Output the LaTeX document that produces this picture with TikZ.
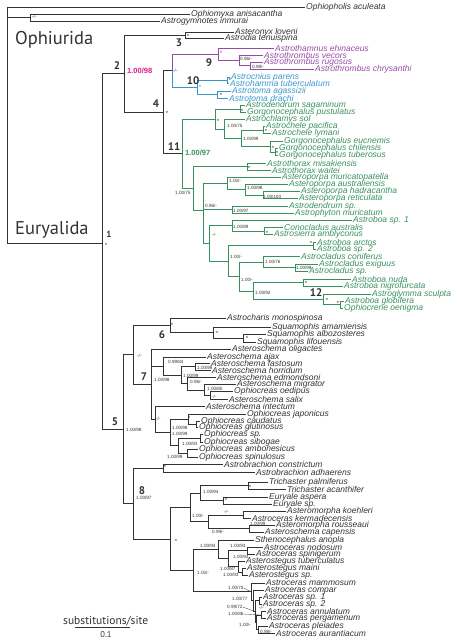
\documentclass[tikz,border=0pt]{standalone}
\usepackage{fontspec}
\setmainfont{Liberation Sans}
\newfontfamily\cladefont{PT Sans}
\usepackage{tikz}

\definecolor{treegray}{RGB}{50,50,50}
\definecolor{cladenine}{RGB}{150,75,165}
\definecolor{cladeten}{RGB}{55,150,210}
\definecolor{cladeeleven}{RGB}{55,145,95}
\definecolor{supportpink}{RGB}{220,30,140}

\tikzset{
  br/.style={color=treegray, line width=0.8pt},
  elbow/.style={to path={|- (\tikztotarget)}},
  taxon/.style={anchor=west, inner xsep=1pt, inner ysep=0pt, text=treegray, font=\fontsize{8.5}{9}\selectfont\itshape},
  supp/.style={anchor=west, inner sep=0pt, text=treegray, font=\fontsize{4.6}{5}\selectfont},
  star/.style={inner sep=0pt, text=treegray, font=\fontsize{6}{6}\selectfont},
  cladeno/.style={inner sep=0pt, text=treegray, font=\cladefont\bfseries\fontsize{11}{11}\selectfont},
  groupname/.style={anchor=west, inner sep=0pt, text=treegray, font=\cladefont\fontsize{18.5}{19}\selectfont},
}

\begin{document}
\begin{tikzpicture}[x=1pt, y=-1pt]
    \useasboundingbox (0,0) rectangle (457,643);

    % tips, top to bottom
    \node[taxon] (aculeata) at (305,7) {Ophiopholis aculeata};
    \node[taxon] (anisacantha) at (190,14) {Ophiomyxa anisacantha};
    \node[taxon] (inmurai) at (160,21) {Astrogymnotes inmurai};
    \node[taxon] (loveni) at (234,32) {Asteronyx loveni};
    \node[taxon] (tenuispina) at (224,38.5) {Astrodia tenuispina};
    \node[taxon, text=cladenine] (ehinaceus) at (274,48) {Astrothamnus ehinaceus};
    \node[taxon, text=cladenine] (vecors) at (263,55) {Astrothrombus vecors};
    \node[taxon, text=cladenine] (rugosus) at (263,62) {Astrothrombus rugosus};
    \node[taxon, text=cladenine] (chrysanthi) at (314,69) {Astrothrombus chrysanthi};
    \node[taxon, text=cladeten] (parens) at (230,77) {Astrocnius parens};
    \node[taxon, text=cladeten] (tuberculatum) at (229,83.5) {Astrohamma tuberculatum};
    \node[taxon, text=cladeten] (agassizii) at (231,91) {Astrotoma agassizii};
    \node[taxon, text=cladeten] (drachi) at (228,98) {Astrotoma drachi};
    \node[taxon, text=cladeeleven] (sagaminum) at (245,105.5) {Astrodendrum sagaminum};
    \node[taxon, text=cladeeleven] (pustulatus) at (246,112.5) {Gorgonocephalus pustulatus};
    \node[taxon, text=cladeeleven] (sol) at (245,119.5) {Astrochlamys sol};
    \node[taxon, text=cladeeleven] (pacifica) at (265,126.5) {Astrochele pacifica};
    \node[taxon, text=cladeeleven] (lymani) at (271,133.5) {Astrochele lymani};
    \node[taxon, text=cladeeleven] (eucnemis) at (283,141.5) {Gorgonocephalus eucnemis};
    \node[taxon, text=cladeeleven] (chilensis) at (278,148.5) {Gorgonocephalus chilensis};
    \node[taxon, text=cladeeleven] (tuberosus) at (278,155.5) {Gorgonocephalus tuberosus};
    \node[taxon, text=cladeeleven] (misakiensis) at (266,163) {Astrothorax misakiensis};
    \node[taxon, text=cladeeleven] (waitei) at (271,170) {Astrothorax waitei};
    \node[taxon, text=cladeeleven] (muricatopatella) at (281,177.5) {Asteroporpa muricatopatella};
    \node[taxon, text=cladeeleven] (australiensis) at (288,184.5) {Asteroporpa australiensis};
    \node[taxon, text=cladeeleven] (hadracantha) at (300,191.5) {Asteroporpa hadracantha};
    \node[taxon, text=cladeeleven] (reticulata) at (298,198.5) {Asteroporpa reticulata};
    \node[taxon, text=cladeeleven] (dendsp) at (288,206) {Astrodendrum sp.};
    \node[taxon, text=cladeeleven] (muricatum) at (294,213) {Astrophyton muricatum};
    \node[taxon, text=cladeeleven] (boasp1) at (352,220.5) {Astroboa sp. 1};
    \node[taxon, text=cladeeleven] (australis) at (283,227.5) {Conocladus australis};
    \node[taxon, text=cladeeleven] (amblyconus) at (273,234.5) {Astrosierra amblyconus};
    \node[taxon, text=cladeeleven] (arctos) at (316,242) {Astroboa arctos};
    \node[taxon, text=cladeeleven] (boasp2) at (316,249) {Astroboa sp. 2};
    \node[taxon, text=cladeeleven] (coniferus) at (300,256.5) {Astrocladus coniferus};
    \node[taxon, text=cladeeleven] (exiguus) at (318,264) {Astrocladus exiguus};
    \node[taxon, text=cladeeleven] (cladsp) at (308,271) {Astrocladus sp.};
    \node[taxon, text=cladeeleven] (nuda) at (351,279) {Astroboa nuda};
    \node[taxon, text=cladeeleven] (nigrofurcata) at (343,286.5) {Astroboa nigrofurcata};
    \node[taxon, text=cladeeleven] (sculpta) at (371,294) {Astroglymma sculpta};
    \node[taxon, text=cladeeleven] (globifera) at (344,301) {Astroboa globifera};
    \node[taxon, text=cladeeleven] (oenigma) at (343,308) {Ophiocrene oenigma};
    \node[taxon] (monospinosa) at (226,318) {Astrocharis monospinosa};
    \node[taxon] (amamiensis) at (271,327) {Squamophis amamiensis};
    \node[taxon] (albozosteres) at (266,334.5) {Squamophis albozosteres};
    \node[taxon] (lifouensis) at (256,342) {Squamophis lifouensis};
    \node[taxon] (oligactes) at (231,349) {Asteroschema oligactes};
    \node[taxon] (ajax) at (206,357) {Asteroschema ajax};
    \node[taxon] (fastosum) at (210,363.5) {Asteroschema fastosum};
    \node[taxon] (horridum) at (211,370) {Asteroschema horridum};
    \node[taxon] (edmondsoni) at (216,377) {Asteroschema edmondsoni};
    \node[taxon] (migrator) at (236,384.5) {Asteroschema migrator};
    \node[taxon] (oedipus) at (233,391.5) {Ophiocreas oedipus};
    \node[taxon] (salix) at (228,399) {Asteroschema salix};
    \node[taxon] (intectum) at (205,406.5) {Asteroschema intectum};
    \node[taxon] (japonicus) at (246,414) {Ophiocreas japonicus};
    \node[taxon] (caudatus) at (200,421) {Ophiocreas caudatus};
    \node[taxon] (glutinosus) at (198,427.5) {Ophiocreas glutinosus};
    \node[taxon] (creassp) at (203,434.5) {Ophiocreas sp.};
    \node[taxon] (sibogae) at (203,442) {Ophiocreas sibogae};
    \node[taxon] (ambonesicus) at (198,449.5) {Ophiocreas ambonesicus};
    \node[taxon] (spinulosus) at (198,457) {Ophiocreas spinulosus};
    \node[taxon] (constrictum) at (223,464.5) {Astrobrachion constrictum};
    \node[taxon] (adhaerens) at (255,472) {Astrobrachion adhaerens};
    \node[taxon] (palmiferus) at (268,482) {Trichaster palmiferus};
    \node[taxon] (acanthifer) at (286,489) {Trichaster acanthifer};
    \node[taxon] (aspera) at (268,497) {Euryale aspera};
    \node[taxon] (eurysp) at (272,504) {Euryale sp.};
    \node[taxon] (koehleri) at (286,511.5) {Asteromorpha koehleri};
    \node[taxon] (kermadecensis) at (251,518.5) {Astroceras kermadecensis};
    \node[taxon] (rousseaui) at (275,525) {Asteromorpha rousseaui};
    \node[taxon] (capensis) at (264,532) {Asteroschema capensis};
    \node[taxon] (anopla) at (254,540) {Sthenocephalus anopla};
    \node[taxon] (nodosum) at (263,547) {Astroceras nodosum};
    \node[taxon] (spinigerum) at (255,554) {Astroceras spinigerum};
    \node[taxon] (tuberculatus) at (245,561) {Asterostegus tuberculatus};
    \node[taxon] (maini) at (246,568.5) {Asterostegus maini};
    \node[taxon] (stegsp) at (248,575.5) {Asterostegus sp.};
    \node[taxon] (mammosum) at (265,583) {Astroceras mammosum};
    \node[taxon] (compar) at (264,590) {Astroceras compar};
    \node[taxon] (cerassp1) at (262,597) {Astroceras sp. 1};
    \node[taxon] (cerassp2) at (262,604) {Astroceras sp. 2};
    \node[taxon] (annulatum) at (266,611.5) {Astroceras annulatum};
    \node[taxon] (pergamenum) at (266,618.5) {Astroceras pergamenum};
    \node[taxon] (pleiades) at (268,626) {Astroceras pleiades};
    \node[taxon] (aurantiacum) at (275,633) {Astroceras aurantiacum};

    % internal nodes
    \coordinate (root) at (7,125);
    \coordinate (nom) at (30,17.5);
    \coordinate (n1) at (102,243);
    \coordinate (n2) at (124,73.7);
    \coordinate (n3) at (185,35.25);
    \coordinate (n4) at (163,112.2);
    \coordinate (n910) at (172,70.75);
    \coordinate (n9) at (218,54.1);
    \coordinate (n9b) at (239,60.25);
    \coordinate (n9c) at (250,65.5);
    \coordinate (n10) at (197,87.4);
    \coordinate (n10a) at (227,80.25);
    \coordinate (n10b) at (217,94.5);
    \coordinate (n11) at (182,153.6);
    \coordinate (n11a) at (215,119);
    \coordinate (n11a1) at (240,109);
    \coordinate (n11a2) at (224,129);
    \coordinate (n11a3) at (263,130);
    \coordinate (n11a4) at (270,146.75);
    \coordinate (n11a5) at (275,152);
    \coordinate (n11a6) at (241,138.4);
    \coordinate (n11b) at (193,188.25);
    \coordinate (n11b1) at (247,166.5);
    \coordinate (n11c) at (203,210);
    \coordinate (np3) at (227,183.6);
    \coordinate (np2) at (245,189.75);
    \coordinate (np1) at (263,195);
    \coordinate (nf) at (232,209.5);
    \coordinate (ne) at (209,243.4);
    \coordinate (nh) at (232,225.75);
    \coordinate (nh1) at (264,231);
    \coordinate (ni) at (228,261);
    \coordinate (ni1) at (313,245.5);
    \coordinate (nj) at (239,276.5);
    \coordinate (nk) at (263,262);
    \coordinate (nk1) at (295,267.5);
    \coordinate (n12) at (253,291);
    \coordinate (nm) at (303,282.75);
    \coordinate (nn) at (323,299.25);
    \coordinate (nn1) at (340,304.5);
    \coordinate (n5) at (123,429.2);
    \coordinate (n67) at (133,354.8);
    \coordinate (n6) at (170,325.3);
    \coordinate (n6a) at (213,332.6);
    \coordinate (n6b) at (243,338.25);
    \coordinate (n7) at (151,384.25);
    \coordinate (nqb) at (163,366);
    \coordinate (nqf) at (181,375.1);
    \coordinate (nqa) at (195,366.75);
    \coordinate (nqe) at (187,383.4);
    \coordinate (nqd) at (204,389.9);
    \coordinate (nqc) at (210,395.25);
    \coordinate (nr) at (155,419.5);
    \coordinate (nr2) at (170,432.4);
    \coordinate (nr1) at (188,419.1);
    \coordinate (nc1) at (196,424.25);
    \coordinate (nr3) at (178,445.75);
    \coordinate (nc2) at (200,438.25);
    \coordinate (nc3) at (187,453.25);
    \coordinate (n8) at (133,503.6);
    \coordinate (nab) at (163,468.25);
    \coordinate (nt) at (170,539);
    \coordinate (nu) at (190,507.4);
    \coordinate (nu1) at (200,493);
    \coordinate (nu1a) at (248,485.5);
    \coordinate (nu1b) at (223,500.5);
    \coordinate (nu2) at (208,521.75);
    \coordinate (nu2a) at (243,515);
    \coordinate (nu2b) at (249,528.5);
    \coordinate (nv) at (193,570.5);
    \coordinate (nw) at (218,549.25);
    \coordinate (nw4) at (228,558.5);
    \coordinate (nw1) at (247,550.5);
    \coordinate (nw2) at (238,566.5);
    \coordinate (nw3) at (242,572);
    \coordinate (nx) at (251,591.8);
    \coordinate (nxy) at (253,600.7);
    \coordinate (nxz) at (255,611.4);
    \coordinate (nx1) at (259,600.5);
    \coordinate (nxw) at (256,622.25);
    \coordinate (nx4) at (261,615);
    \coordinate (nx5) at (258,629.5);

    % branches
    \path[br] (root) edge[elbow] (aculeata) edge[elbow] (nom) edge[elbow] (n1);
    \path[br] (nom) edge[elbow] (anisacantha) edge[elbow] (inmurai);
    \path[br] (n1) edge[elbow] (n2) edge[elbow] (n5);
    \path[br] (n2) edge[elbow] (n3) edge[elbow] (n4);
    \path[br] (n3) edge[elbow] (loveni) edge[elbow] (tenuispina);
    \path[br] (n4) edge[elbow] (n910) edge[elbow] (n11);
    \path[br, color=cladenine] (n910) edge[elbow] (n9);
    \path[br, color=cladenine] (n9) edge[elbow] (ehinaceus) edge[elbow] (n9b);
    \path[br, color=cladenine] (n9b) edge[elbow] (vecors) edge[elbow] (n9c);
    \path[br, color=cladenine] (n9c) edge[elbow] (rugosus) edge[elbow] (chrysanthi);
    \path[br, color=cladeten] (n910) edge[elbow] (n10);
    \path[br, color=cladeten] (n10) edge[elbow] (n10a) edge[elbow] (n10b);
    \path[br, color=cladeten] (n10a) edge[elbow] (parens) edge[elbow] (tuberculatum);
    \path[br, color=cladeten] (n10b) edge[elbow] (agassizii) edge[elbow] (drachi);
    \path[br, color=cladeeleven] (n11) edge[elbow] (n11a) edge[elbow] (n11b);
    \path[br, color=cladeeleven] (n11a) edge[elbow] (n11a1) edge[elbow] (n11a2);
    \path[br, color=cladeeleven] (n11a1) edge[elbow] (sagaminum) edge[elbow] (pustulatus);
    \path[br, color=cladeeleven] (n11a2) edge[elbow] (sol) edge[elbow] (n11a6);
    \path[br, color=cladeeleven] (n11a6) edge[elbow] (n11a3) edge[elbow] (n11a4);
    \path[br, color=cladeeleven] (n11a3) edge[elbow] (pacifica) edge[elbow] (lymani);
    \path[br, color=cladeeleven] (n11a4) edge[elbow] (eucnemis) edge[elbow] (n11a5);
    \path[br, color=cladeeleven] (n11a5) edge[elbow] (chilensis) edge[elbow] (tuberosus);
    \path[br, color=cladeeleven] (n11b) edge[elbow] (n11b1) edge[elbow] (n11c);
    \path[br, color=cladeeleven] (n11b1) edge[elbow] (misakiensis) edge[elbow] (waitei);
    \path[br, color=cladeeleven] (n11c) edge[elbow] (np3) edge[elbow] (nf) edge[elbow] (ne);
    \path[br, color=cladeeleven] (np3) edge[elbow] (muricatopatella) edge[elbow] (np2);
    \path[br, color=cladeeleven] (np2) edge[elbow] (australiensis) edge[elbow] (np1);
    \path[br, color=cladeeleven] (np1) edge[elbow] (hadracantha) edge[elbow] (reticulata);
    \path[br, color=cladeeleven] (nf) edge[elbow] (dendsp) edge[elbow] (muricatum);
    \path[br, color=cladeeleven] (ne) edge[elbow] (nh) edge[elbow] (ni);
    \path[br, color=cladeeleven] (nh) edge[elbow] (boasp1) edge[elbow] (nh1);
    \path[br, color=cladeeleven] (nh1) edge[elbow] (australis) edge[elbow] (amblyconus);
    \path[br, color=cladeeleven] (ni) edge[elbow] (ni1) edge[elbow] (nj);
    \path[br, color=cladeeleven] (ni1) edge[elbow] (arctos) edge[elbow] (boasp2);
    \path[br, color=cladeeleven] (nj) edge[elbow] (nk) edge[elbow] (n12);
    \path[br, color=cladeeleven] (nk) edge[elbow] (coniferus) edge[elbow] (nk1);
    \path[br, color=cladeeleven] (nk1) edge[elbow] (exiguus) edge[elbow] (cladsp);
    \path[br, color=cladeeleven] (n12) edge[elbow] (nm) edge[elbow] (nn);
    \path[br, color=cladeeleven] (nm) edge[elbow] (nuda) edge[elbow] (nigrofurcata);
    \path[br, color=cladeeleven] (nn) edge[elbow] (sculpta) edge[elbow] (nn1);
    \path[br, color=cladeeleven] (nn1) edge[elbow] (globifera) edge[elbow] (oenigma);
    \path[br] (n5) edge[elbow] (n67) edge[elbow] (n8);
    \path[br] (n67) edge[elbow] (n6) edge[elbow] (n7);
    \path[br] (n6) edge[elbow] (monospinosa) edge[elbow] (n6a);
    \path[br] (n6a) edge[elbow] (amamiensis) edge[elbow] (n6b);
    \path[br] (n6b) edge[elbow] (albozosteres) edge[elbow] (lifouensis);
    \path[br] (n7) edge[elbow] (oligactes) edge[elbow] (nqb) edge[elbow] (nr);
    \path[br] (nqb) edge[elbow] (ajax) edge[elbow] (nqf);
    \path[br] (nqf) edge[elbow] (nqa) edge[elbow] (nqe);
    \path[br] (nqa) edge[elbow] (fastosum) edge[elbow] (horridum);
    \path[br] (nqe) edge[elbow] (edmondsoni) edge[elbow] (nqd);
    \path[br] (nqd) edge[elbow] (migrator) edge[elbow] (nqc);
    \path[br] (nqc) edge[elbow] (oedipus) edge[elbow] (salix);
    \path[br] (nr) edge[elbow] (intectum) edge[elbow] (nr2);
    \path[br] (nr2) edge[elbow] (nr1) edge[elbow] (nr3);
    \path[br] (nr1) edge[elbow] (japonicus) edge[elbow] (nc1);
    \path[br] (nc1) edge[elbow] (caudatus) edge[elbow] (glutinosus);
    \path[br] (nr3) edge[elbow] (nc2) edge[elbow] (nc3);
    \path[br] (nc2) edge[elbow] (creassp) edge[elbow] (sibogae);
    \path[br] (nc3) edge[elbow] (ambonesicus) edge[elbow] (spinulosus);
    \path[br] (n8) edge[elbow] (nab) edge[elbow] (nt);
    \path[br] (nab) edge[elbow] (constrictum) edge[elbow] (adhaerens);
    \path[br] (nt) edge[elbow] (nu) edge[elbow] (nv);
    \path[br] (nu) edge[elbow] (nu1) edge[elbow] (nu2);
    \path[br] (nu1) edge[elbow] (nu1a) edge[elbow] (nu1b);
    \path[br] (nu1a) edge[elbow] (palmiferus) edge[elbow] (acanthifer);
    \path[br] (nu1b) edge[elbow] (aspera) edge[elbow] (eurysp);
    \path[br] (nu2) edge[elbow] (nu2a) edge[elbow] (nu2b);
    \path[br] (nu2a) edge[elbow] (koehleri) edge[elbow] (kermadecensis);
    \path[br] (nu2b) edge[elbow] (rousseaui) edge[elbow] (capensis);
    \path[br] (nv) edge[elbow] (nw) edge[elbow] (nx);
    \path[br] (nw) edge[elbow] (anopla) edge[elbow] (nw4);
    \path[br] (nw4) edge[elbow] (nw1) edge[elbow] (nw2);
    \path[br] (nw1) edge[elbow] (nodosum) edge[elbow] (spinigerum);
    \path[br] (nw2) edge[elbow] (tuberculatus) edge[elbow] (nw3);
    \path[br] (nw3) edge[elbow] (maini) edge[elbow] (stegsp);
    \path[br] (nx) edge[elbow] (mammosum) edge[elbow] (nxy);
    \path[br] (nxy) edge[elbow] (compar) edge[elbow] (nxz);
    \path[br] (nxz) edge[elbow] (nx1) edge[elbow] (nxw);
    \path[br] (nx1) edge[elbow] (cerassp1) edge[elbow] (cerassp2);
    \path[br] (nxw) edge[elbow] (nx4) edge[elbow] (nx5);
    \path[br] (nx4) edge[elbow] (annulatum) edge[elbow] (pergamenum);
    \path[br] (nx5) edge[elbow] (pleiades) edge[elbow] (aurantiacum);

    % group names and clade numbers
    \node[groupname] (ophiurida) at (15,40) {Ophiurida};
    \node[groupname] (euryalida) at (15,230) {Euryalida};
    \node[cladeno, font=\cladefont\bfseries\fontsize{9}{9}\selectfont] (c1) at (109,234) {1};
    \node[cladeno] (c2) at (117,66) {2};
    \node[cladeno] (c3) at (179,43) {3};
    \node[cladeno] (c4) at (156,104) {4};
    \node[cladeno] (c5) at (115,422) {5};
    \node[cladeno] (c6) at (162,335) {6};
    \node[cladeno] (c7) at (144,377) {7};
    \node[cladeno] (c8) at (142,491) {8};
    \node[cladeno] (c9) at (209,63) {9};
    \node[cladeno] (c10) at (193,81) {10};
    \node[cladeno] (c11) at (174,147) {11};
    \node[cladeno] (c12) at (316,293) {12};
    \node[supp, text=supportpink, font=\bfseries\fontsize{7.5}{8}\selectfont] (s2) at (127,71) {1.00/98};
    \node[supp, text=cladeeleven, font=\bfseries\fontsize{7.5}{8}\selectfont] (s11) at (185,153) {1.00/97};

    % support values
    \node[supp] (sa1) at (32,17) {-/-};
    \node[supp] (sa2) at (173,71) {-/-};
    \node[supp] (sa3) at (240,59) {0.96/-};
    \node[supp] (sa4) at (252,67) {0.98/-};
    \node[supp] (sb1) at (227,126) {1.00/75};
    \node[supp] (sb2) at (243,139) {1.00/99};
    \node[supp] (sb3) at (175,193) {1.00/75};
    \node[supp] (sb4) at (229,181) {1.00/-};
    \node[supp] (sb5) at (247,188) {1.00/98};
    \node[supp] (sb6) at (263,197) {1.00/100};
    \node[supp] (sb7) at (205,206) {0.96/-};
    \node[supp] (sb8) at (233,211) {1.00/97};
    \node[supp] (sb9) at (233,227) {1.00/89};
    \node[supp] (sb10) at (212,235) {-/-};
    \node[supp] (sb11) at (230,257) {1.00/-};
    \node[supp] (sb12) at (265,262) {1.00/76};
    \node[supp] (sb13) at (296,268) {1.00/99};
    \node[supp] (sb14) at (241,280) {1.00/-};
    \node[supp] (sb15) at (255,293) {1.00/92};
    \node[supp] (sc1) at (126,430) {1.00/98};
    \node[supp] (sc2) at (137,356) {-/-};
    \node[supp] (sc3) at (154,380) {1.00/98};
    \node[supp] (sc4) at (168,362) {0.99/84};
    \node[supp] (sc5) at (197,368) {1.00/98};
    \node[supp] (sc6) at (183,376) {1.00/99};
    \node[supp] (sc7) at (190,382) {0.96/-};
    \node[supp] (sc8) at (207,389) {1.00/80};
    \node[supp] (sc9) at (212,397) {-/-};
    \node[supp] (sc10) at (156,419) {-/-};
    \node[supp] (sc11) at (172,428) {1.00/98};
    \node[supp] (sc12) at (172,434) {1.00/99};
    \node[supp] (sc13) at (182,444) {1.00/93};
    \node[supp] (sc14) at (167,457) {1.00/99};
    \node[supp] (sd1) at (136,498) {1.00/97};
    \node[supp] (sd2) at (203,492) {1.00/94};
    \node[supp] (sd3) at (192,516) {1.00/-};
    \node[supp] (sd4) at (224,512) {-/-};
    \node[supp] (sd5) at (212,532) {0.99/-};
    \node[supp] (sd6) at (250,524) {1.00/99};
    \node[supp] (sd7) at (200,546) {1.00/94};
    \node[supp] (sd8) at (197,573) {1.00/-};
    \node[supp] (sd9) at (230,546) {1.00/93};
    \node[supp] (sd10) at (233,557) {1.00/93};
    \node[supp] (sd11) at (220,569) {1.00/87};
    \node[supp] (sd12) at (223,575) {1.00/93};
    \node[supp] (sd13) at (228,588) {1.00/75};
    \node[supp] (sd14) at (232,599) {1.00/77};
    \node[supp] (sd15) at (227,607) {0.99/72};
    \node[supp] (sd16) at (259,608) {-/-};
    \node[supp] (sd17) at (228,614) {1.00/86};
    \node[supp] (sd18) at (239,625) {1.00/-};
    \node[supp] (sd19) at (260,632) {0.98/-};
    \draw[treegray, line width=0.3pt] (sd13.east) -- (nx);
    \draw[treegray, line width=0.3pt] (sd15.east) -- (nxz);
    \draw[treegray, line width=0.3pt] (sd17.east) -- (nx4);

    % posterior stars
    \node[star] (st1) at (106,245) {*};
    \node[star] (st2) at (188,36) {*};
    \node[star] (st3) at (167,113) {*};
    \node[star, text=cladenine] (st4) at (221,53) {*};
    \node[star, text=cladeten] (st5) at (200,87) {*};
    \node[star] (st6) at (230,80) {*};
    \node[star] (st7) at (221,95) {*};
    \node[star] (st8) at (218,121) {*};
    \node[star] (st9) at (242,111) {*};
    \node[star] (st10) at (266,131) {*};
    \node[star] (st11) at (273,148) {*};
    \node[star] (st12) at (277,153) {*};
    \node[star] (st13) at (249,168) {*};
    \node[star] (st14) at (267,233) {*};
    \node[star] (st15) at (311,243) {*};
    \node[star] (st16) at (306,283) {*};
    \node[star] (st17) at (327,300) {*};
    \node[star] (st18) at (338,303) {*};
    \node[star] (st19) at (172,325) {*};
    \node[star] (st20) at (217,333) {*};
    \node[star] (st21) at (247,338) {*};
    \node[star] (st22) at (189,418) {*};
    \node[star] (st23) at (165,467) {*};
    \node[star] (st24) at (250,487) {*};
    \node[star] (st25) at (226,500) {*};
    \node[star] (st26) at (176,541) {*};

    % scale
    \node[anchor=west, inner sep=0pt, text=treegray, font=\cladefont\fontsize{11.5}{12}\selectfont] (scaletext) at (63,621) {substitutions/site};
    \coordinate (scale0) at (75,627);
    \coordinate (scale1) at (130,627);
    \draw[br] (scale0) -- (scale1);
    \node[inner sep=0pt, text=treegray, font=\cladefont\fontsize{8.5}{9}\selectfont] (scaleval) at (106,635) {0.1};
\end{tikzpicture}
\end{document}
